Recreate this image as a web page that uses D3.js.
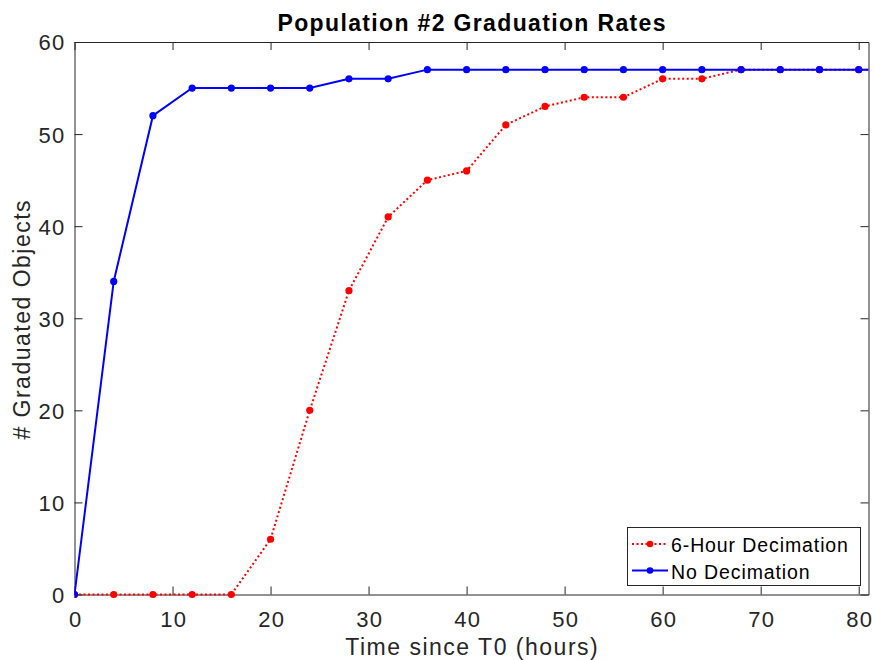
<!DOCTYPE html>
<html><head><meta charset="utf-8">
<script src="https://cdn.jsdelivr.net/npm/d3@7"></script>
<style>body{margin:0;background:#fff}svg{display:block}text{font-family:"Liberation Sans",Arial,sans-serif}</style>
</head><body>
<script>
const hours = [0,4,8,12,16,20,24,28,32,36,40,44,48,52,56,60,64,68,72,76,80,84];
const decimated = [0,0,0,0,0,6,20,33,41,45,46,51,53,54,54,56,56,57,57,57,57,57];
const noDecimation = [0,34,52,55,55,55,55,56,56,57,57,57,57,57,57,57,57,57,57,57,57,57];
const xTicks = [0,10,20,30,40,50,60,70,80];
const yTicks = [0,10,20,30,40,50,60];
const seriesNames = ["6-Hour Decimation","No Decimation"];

const W=874,H=660;
const m={l:74.5,r:868.5,t:42,b:594.5};
const x=d3.scaleLinear().domain([0,81]).range([m.l,m.r]);
const y=d3.scaleLinear().domain([0,60]).range([m.b,m.t]);
const svg=d3.select("body").append("svg").attr("width",W).attr("height",H);
const axisColor="#262626";
const FF='"Liberation Sans",Arial,sans-serif';

svg.append("defs").append("clipPath").attr("id","clip").append("rect")
  .attr("x",m.l).attr("y",m.t-6).attr("width",m.r-m.l).attr("height",m.b-m.t+12);

// axes
const tl=8;
const gx=svg.append("g").attr("transform",`translate(0,${m.b})`)
  .call(d3.axisBottom(x).tickValues(xTicks).tickSizeInner(-tl).tickSizeOuter(0));
const gxt=svg.append("g").attr("transform",`translate(0,${m.t})`)
  .call(d3.axisTop(x).tickValues(xTicks).tickSizeInner(-tl).tickSizeOuter(0).tickFormat(""));
const gy=svg.append("g").attr("transform",`translate(${m.l},0)`)
  .call(d3.axisLeft(y).tickValues(yTicks).tickSizeInner(-tl).tickSizeOuter(0));
const gyr=svg.append("g").attr("transform",`translate(${m.r},0)`)
  .call(d3.axisRight(y).tickValues(yTicks).tickSizeInner(-tl).tickSizeOuter(0).tickFormat(""));
[gx,gxt,gy,gyr].forEach(g=>{
  g.selectAll("path,line").attr("stroke",axisColor).attr("stroke-width",1);
  g.selectAll("text").attr("fill",axisColor).style("font-size","22px").style("font-family",FF)
    .style("letter-spacing","1.3px");
});
gx.selectAll("text").attr("y",32.5).attr("dy",0).attr("dx",0.65);
gy.selectAll("text").attr("x",-9).attr("dy","0.36em");

const plot=svg.append("g").attr("clip-path","url(#clip)");
const line=d3.line().x(d=>x(d[0])).y(d=>y(d[1]));
const sets=[
  {name:seriesNames[0],vals:decimated,color:"#ff0000",dash:"2,2.5"},
  {name:seriesNames[1],vals:noDecimation,color:"#0000ff",dash:null}
];
sets.forEach(s=>{
  const pts=hours.map((h,i)=>[h,s.vals[i]]);
  plot.append("path").datum(pts).attr("d",line).attr("fill","none")
    .attr("stroke",s.color).attr("stroke-width",2).attr("stroke-dasharray",s.dash);
  plot.selectAll(null).data(pts.filter(p=>p[0]<=81)).enter().append("circle")
    .attr("cx",p=>x(p[0])).attr("cy",p=>y(p[1])).attr("r",3.6).attr("fill",s.color);
});

// title and labels
svg.append("text").attr("x",(m.l+m.r)/2+0.7).attr("y",31).attr("text-anchor","middle")
  .style("font-size","23px").style("font-weight","bold").style("letter-spacing","1.35px")
  .attr("fill","#000").text("Population #2 Graduation Rates");
svg.append("text").attr("x",(m.l+m.r)/2+0.75).attr("y",655).attr("text-anchor","middle")
  .style("font-size","23px").style("letter-spacing","1.5px").attr("fill",axisColor).text("Time since T0 (hours)");
svg.append("text").attr("transform",`translate(30,${(m.t+m.b)/2+1}) rotate(-90)`).attr("text-anchor","middle")
  .style("font-size","23px").style("letter-spacing","1.5px").attr("fill",axisColor).text("# Graduated Objects");

// legend
const lg=svg.append("g");
lg.append("rect").attr("x",627.5).attr("y",527.5).attr("width",233).attr("height",58)
  .attr("fill","#fff").attr("stroke",axisColor).attr("stroke-width",1);
sets.forEach((s,i)=>{
  const cy=544+i*26.5;
  lg.append("line").attr("x1",632).attr("x2",668).attr("y1",cy).attr("y2",cy)
    .attr("stroke",s.color).attr("stroke-width",2).attr("stroke-dasharray",s.dash);
  lg.append("circle").attr("cx",650).attr("cy",cy).attr("r",3.3).attr("fill",s.color);
  lg.append("text").attr("x",671).attr("y",cy+8).style("font-size","19.5px").style("letter-spacing","0.9px")
    .attr("fill","#000").text(s.name);
});
</script>
</body></html>
